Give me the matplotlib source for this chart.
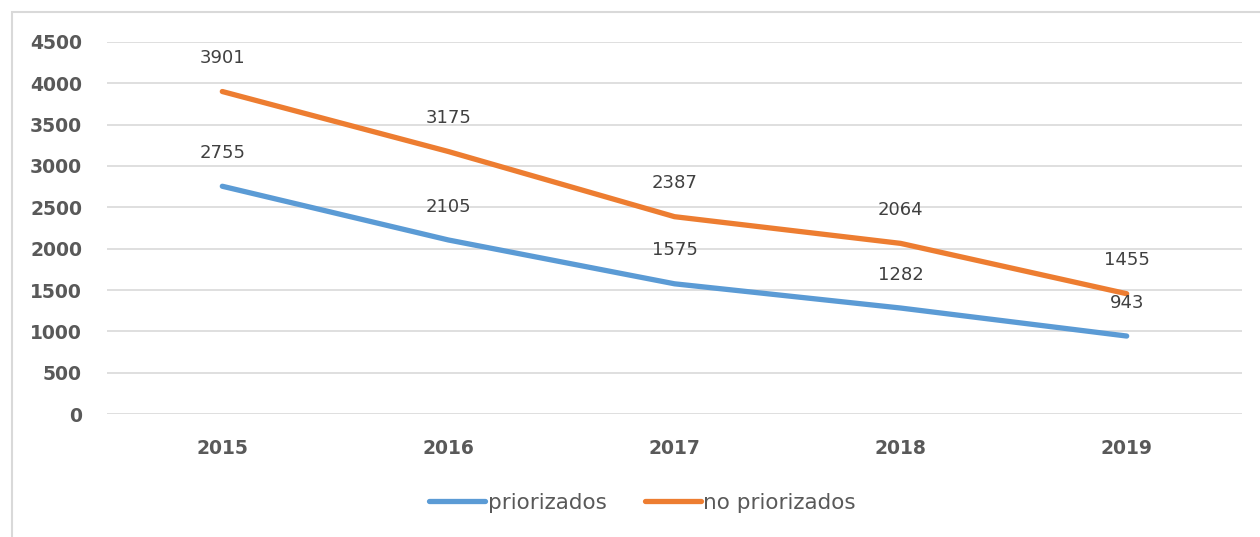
import matplotlib.pyplot as plt
from matplotlib.patches import Rectangle

# datos
years = ['2015', '2016', '2017', '2018', '2019']
priorizados = [2755, 2105, 1575, 1282, 943]
no_priorizados = [3901, 3175, 2387, 2064, 1455]

fig = plt.figure(figsize=(12.6, 5.37), dpi=100)
ax = fig.add_axes([107/1260, 1 - 414/537, (1242-107)/1260, (414-42)/537])

x = range(len(years))
ax.plot(x, priorizados, color='#5B9BD5', lw=3.8, solid_capstyle='round', label='priorizados')
ax.plot(x, no_priorizados, color='#ED7D31', lw=3.8, solid_capstyle='round', label='no priorizados')

# etiquetas de datos
for i in x:
    ax.annotate(str(priorizados[i]), (i, priorizados[i]), xytext=(0, 24), textcoords='offset points',
                ha='center', va='center', fontsize=13, color='#404040')
    ax.annotate(str(no_priorizados[i]), (i, no_priorizados[i]), xytext=(0, 24), textcoords='offset points',
                ha='center', va='center', fontsize=13, color='#404040')

ax.set_xlim(-0.51, 4.51)
ax.set_ylim(0, 4500)
ax.set_yticks(range(0, 4501, 500))
ax.set_xticks(list(x))
ax.set_xticklabels(years)
ax.grid(axis='y', color='#d9d9d9', lw=1.2)
ax.set_axisbelow(True)
for s in ax.spines.values():
    s.set_visible(False)
ax.tick_params(length=0, labelsize=13.5, labelcolor='#595959')
ax.tick_params(axis='x', pad=18)
ax.tick_params(axis='y', pad=18)
for t in ax.get_xticklabels() + ax.get_yticklabels():
    t.set_fontweight('bold')

leg = ax.legend(loc='center', bbox_to_anchor=(0.472, (414-503)/372), ncol=2, frameon=False,
                fontsize=15.5, handlelength=2.6, handletextpad=0.1, columnspacing=1.8)
for t in leg.get_texts():
    t.set_color('#595959')

# marco
fig.patches.append(Rectangle((12/1260, -0.1), 1.2, 1 - 12/537 + 0.1, transform=fig.transFigure,
                             fill=False, edgecolor='#d9d9d9', lw=1.5))

fig.savefig('out.png', dpi=100)
